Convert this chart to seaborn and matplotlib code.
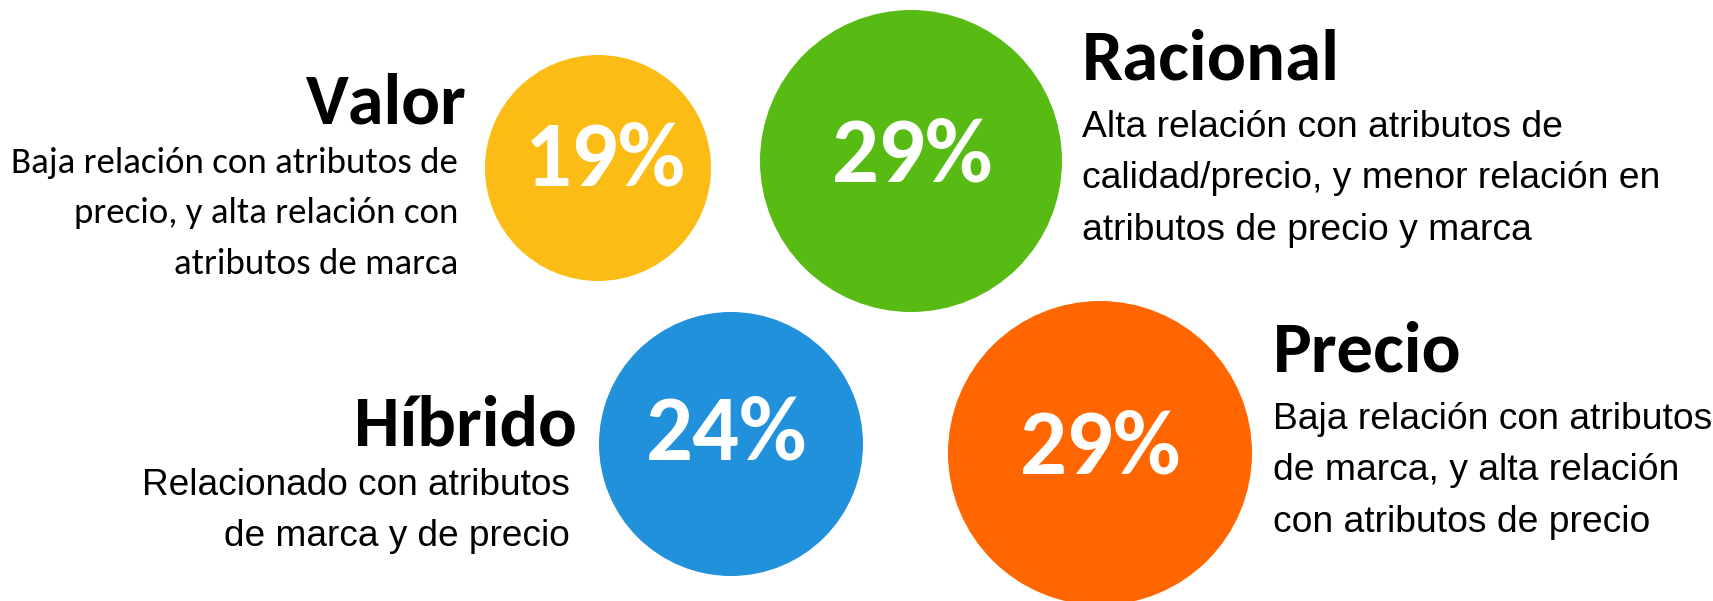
import matplotlib
matplotlib.use("Agg")
import matplotlib.pyplot as plt
from matplotlib.patches import Circle
from matplotlib import font_manager
import seaborn as sns
import pandas as pd

# ---- data ----
segments = ["Valor", "Racional", "Híbrido", "Precio"]
shares = [19, 29, 24, 29]
descriptions = [
    ["Baja relación con atributos de", "precio, y alta relación con", "atributos de marca"],
    ["Alta relación con atributos de", "calidad/precio, y menor relación en", "atributos de precio y marca"],
    ["Relacionado con atributos", "de marca y de precio"],
    ["Baja relación con atributos", "de marca, y alta relación", "con atributos de precio"],
]
colors = ["#FBBC16", "#57BB13", "#2291DB", "#FF6600"]

df = pd.DataFrame({"segment": segments, "share": shares, "color": colors})

# ---- layout (pixels, y down) ----
circle_xy = [(598, 168), (911, 161), (731, 444), (1100, 453)]
circle_r = [113, 151, 132, 152]
pct_center_x = [605, 913, 727, 1101]
pct_baseline = [186, 181, 460, 473]
pct_width = 162

title_anchor = [(467, 123, "right"), (1082, 79, "left"), (577, 445, "right"), (1273, 371, "left")]
title_width = [161, 259, 223, 189]

desc_anchor = [(458, "right"), (1082, "left"), (570, "right"), (1273, "left")]
desc_baselines = [[173, 223, 274], [137, 188, 240], [495, 546], [429, 480, 532]]
desc_ref_line = [0, 1, 0, 0]
desc_ref_width = [446, 576, 427, 438]

installed = {f.name for f in font_manager.fontManager.ttflist}
calibri_like = [f for f in ["Carlito", "Lato", "Open Sans"] if f in installed][0]
arial_like = [f for f in ["Liberation Sans", "Arial"] if f in installed][0]

sns.set_theme(style="white")
plt.rcParams["font.family"] = [calibri_like, "DejaVu Sans"]

fig = plt.figure(figsize=(17.13, 6.01), dpi=100)
ax = fig.add_axes([0, 0, 1, 1])
ax.set_xlim(0, 1713)
ax.set_ylim(601, 0)
ax.set_aspect("auto")
ax.axis("off")

renderer = fig.canvas.get_renderer()


def fit_text(x, y, s, target_w, ha, **kw):
    t = ax.text(x, y, s, ha=ha, va="baseline", fontsize=20, **kw)
    w = t.get_window_extent(renderer).width
    t.set_fontsize(20 * target_w / w)
    return t


def fit_size(s, target_w, **kw):
    t = ax.text(0, 0, s, fontsize=20, **kw)
    w = t.get_window_extent(renderer).width
    t.remove()
    return 20 * target_w / w


# circles
for i, row in df.iterrows():
    cx, cy = circle_xy[i]
    ax.add_patch(Circle((cx, cy), circle_r[i], facecolor=row["color"], edgecolor="none", zorder=1))

# percentages
for i, row in df.iterrows():
    fit_text(pct_center_x[i], pct_baseline[i], f"{row['share']}%", pct_width, "center",
             color="white", fontweight="bold", family=[calibri_like, "DejaVu Sans"], zorder=3)

# titles
for i, row in df.iterrows():
    x, y, ha = title_anchor[i]
    fit_text(x, y, row["segment"], title_width[i], ha, color="black", fontweight="bold",
             family=[calibri_like, "DejaVu Sans"], zorder=3)

# descriptions
for i, lines in enumerate(descriptions):
    x, ha = desc_anchor[i]
    fam = [calibri_like, "DejaVu Sans"] if i == 0 else [arial_like, "DejaVu Sans"]
    fs = fit_size(lines[desc_ref_line[i]], desc_ref_width[i], family=fam)
    for line, yb in zip(lines, desc_baselines[i]):
        ax.text(x, yb, line, ha=ha, va="baseline", fontsize=fs, family=fam, color="black", zorder=3)

fig.savefig("out.png", dpi=100, facecolor="white")
